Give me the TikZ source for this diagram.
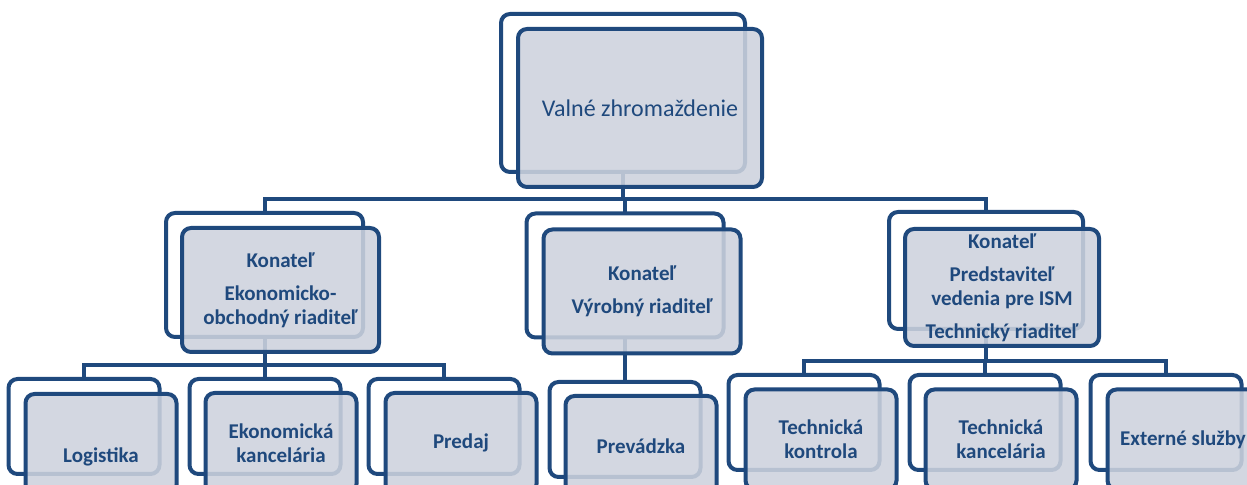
\documentclass[tikz,border=0pt]{standalone}
\usepackage{fontspec}
\setmainfont{Carlito}
\usetikzlibrary{calc}
\definecolor{orgblue}{RGB}{31,73,125}
\definecolor{orgfill}{RGB}{205,210,221}

\begin{document}
\begin{tikzpicture}[x=0.5pt, y=-0.5pt]
\tikzset{
  unit/.style={draw=orgblue, line width=2pt, rounded corners=4.5pt, outer sep=0pt, inner sep=0pt,
    font=\bfseries\fontsize{10.5}{12}\selectfont, text=orgblue, align=center},
  backbox/.style={unit, fill=white},
  frontbox/.style={unit, fill=orgfill, fill opacity=0.88, text opacity=1},
  toplevel/.style={minimum width=122pt, minimum height=79pt},
  midlevel/.style={minimum width=98.5pt, minimum height=62pt},
  sidelevel/.style={minimum width=97pt, minimum height=58.5pt},
  lowlevel/.style={minimum width=75.5pt, minimum height=47.5pt},
  lowfront/.style={lowlevel, minimum height=50pt},
  link/.style={draw=orgblue, line width=2pt}
}
\useasboundingbox (0,0) rectangle (1247,485);

% back boxes
\node[backbox, toplevel] (vzb) at (623,93) {};
\node[backbox, midlevel] (k1b) at (264.5,275) {};
\node[backbox, midlevel] (k2b) at (625,275.5) {};
\node[backbox, sidelevel] (k3b) at (986,270.5) {};
\node[backbox, lowlevel] (lb) at (84,426.5) {};
\node[backbox, lowlevel] (eb) at (265,426.5) {};
\node[backbox, lowlevel] (pb) at (444,426.5) {};
\node[backbox, lowlevel] (prb) at (625,429.5) {};
\node[backbox, lowlevel] (tkb) at (804,422.5) {};
\node[backbox, lowlevel] (tkab) at (985,422.5) {};
\node[backbox, lowlevel] (exb) at (1166,422.5) {};

% connectors
\coordinate (bus0) at (0,199);
\coordinate (bus1) at (0,365);
\coordinate (bus2) at (0,361);
\draw[link] (vzb.south) -- (vzb.south |- bus0) -| (k1b.north);
\draw[link] (vzb.south |- bus0) -| (k2b.north);
\draw[link] (vzb.south |- bus0) -| (k3b.north);
\draw[link] (k1b.south) -- (k1b.south |- bus1) -| (lb.north);
\draw[link] (k1b.south |- bus1) -| (eb.north);
\draw[link] (k1b.south |- bus1) -| (pb.north);
\draw[link] (k2b.south) -- (prb.north);
\draw[link] (k3b.south) -- (k3b.south |- bus2) -| (tkb.north);
\draw[link] (k3b.south |- bus2) -| (tkab.north);
\draw[link] (k3b.south |- bus2) -| (exb.north);

% front boxes
\node[frontbox, toplevel, font=\fontsize{12}{14}\selectfont] (vz) at ($(vzb)+(17,15)$) {Valné zhromaždenie};
\node[frontbox, midlevel] (k1) at ($(k1b)+(16,15)$) {Konateľ\\[4.5pt]Ekonomicko-\\obchodný riaditeľ};
\node[frontbox, midlevel] (k2) at ($(k2b)+(17,16)$) {Konateľ\\[4.5pt]Výrobný riaditeľ};
\node[frontbox, sidelevel] (k3) at ($(k3b)+(16,17)$) {Konateľ\\[4.5pt]Predstaviteľ\\vedenia pre ISM\\[4.5pt]Technický riaditeľ};
\node[frontbox, lowfront] (l) at ($(lb)+(17,17.5)$) {\strut\\Logistika};
\node[frontbox, lowfront] (e) at ($(eb)+(16,16.5)$) {Ekonomická\\kancelária};
\node[frontbox, lowfront] (p) at ($(pb)+(17,16.5)$) {Predaj};
\node[frontbox, lowfront] (pr) at ($(prb)+(16,16.5)$) {Prevádzka};
\node[frontbox, lowfront] (tk) at ($(tkb)+(17,17)$) {Technická\\kontrola};
\node[frontbox, lowfront] (tka) at ($(tkab)+(16,17)$) {Technická\\kancelária};
\node[frontbox, lowfront] (ex) at ($(exb)+(17,17)$) {Externé služby};
\end{tikzpicture}
\end{document}
